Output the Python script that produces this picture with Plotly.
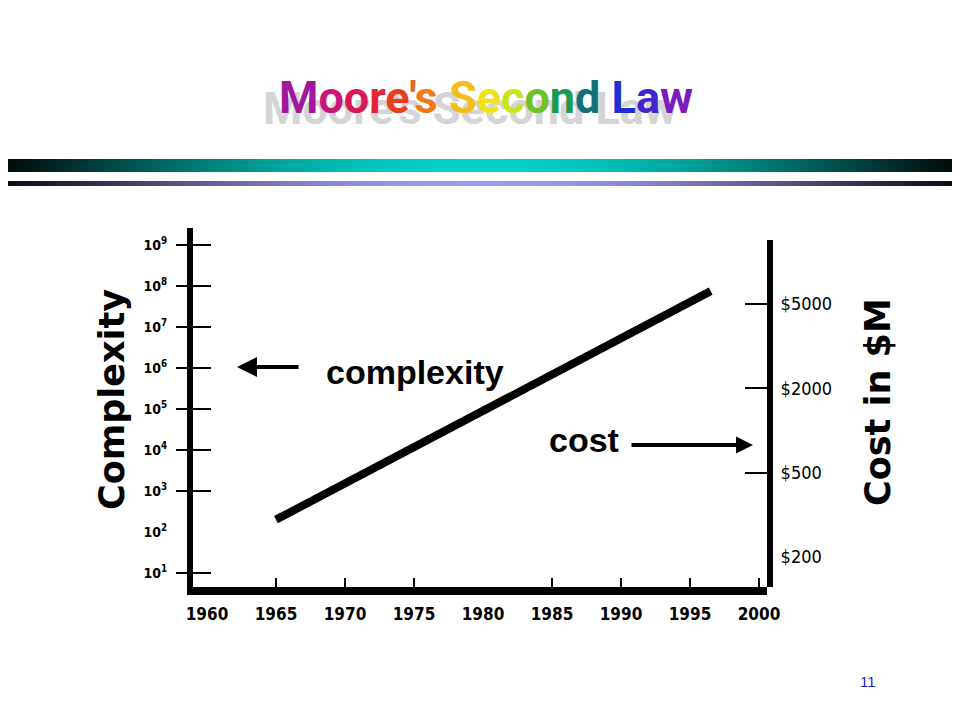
import math
import plotly.graph_objects as go

# ---- data ----
years = [1965, 1996.5]
complexity = [200, 7.5e7]

x_tick_years = [1960, 1965, 1970, 1975, 1980, 1985, 1990, 1995, 2000]
x_tick_marks = [1965, 1970, 1975, 1985, 1990, 1995, 2000]

y_exponents = [1, 2, 3, 4, 5, 6, 7, 8, 9]
y_tick_vals = [10 ** e for e in y_exponents]
y_tick_text = ["10<sup>%d</sup>" % e for e in y_exponents]
y_tick_marks = [10 ** e for e in [1, 3, 4, 5, 6, 7, 8, 9]]

cost_labels = ["$200", "$500", "$2000", "$5000"]
cost_positions = [0, 1, 2, 3]
cost_tick_marks = [1, 2, 3]

title_chars = "Moore's Second Law"
title_colors = ["#a0189e", "#c8157c", "#d8185a", "#e0243a", "#e8401e", "#f06018",
                "#f07a18", "#f4bc1c", "#f0e21a", "#c8e41c", "#70c02a", "#169a56",
                "#137078", "#1c30d8", "#4424cc", "#7a1cc0"]

# page body has an 8px margin; the figure sits inside it without overflowing
OFF = 8
W, H = 944, 704
COND = "DejaVu Sans Condensed, Liberation Sans, Arial"

def px(x):
    return (x - OFF) / W

def py(y):
    return 1 - (y - OFF) / H

# plot area geometry (screen pixels)
X0, X1 = 193, 767
YB, YT, YT2 = 587, 228, 240
PPY = 13.80  # px per year
X1960 = 207

fig = go.Figure()

fig.add_trace(go.Scatter(x=years, y=complexity, mode="lines",
                         line=dict(color="black", width=8), showlegend=False,
                         hoverinfo="skip"))
# helper invisible traces so overlay axes are drawn
for xa, ya in [("x2", "y"), ("x", "y3"), ("x", "y4"), ("x", "y2"), ("x", "y5")]:
    yy = [1e3] if ya in ("y", "y3", "y4") else [1]
    fig.add_trace(go.Scatter(x=[1980], y=yy, xaxis=xa, yaxis=ya, mode="markers",
                             marker=dict(opacity=0), showlegend=False, hoverinfo="skip"))

xr = [1960 - (X1960 - X0) / PPY, 2000 + (X1 - (X1960 + 40 * PPY)) / PPY]
ylog_range = [1 - (YB - 573) / 41.0, 9 + (245 - YT) / 41.0]
per = 84.3
y2_range = [-(YB - 557) / per, 3 + (304 - YT2) / per]

tickfont_x = dict(family=COND, size=17, color="black", weight="bold")
common = dict(showgrid=False, zeroline=False, automargin=False)

fig.update_layout(
    template="none",
    width=W, height=H,
    margin=dict(l=0, r=0, t=0, b=0, pad=0, autoexpand=False),
    paper_bgcolor="white", plot_bgcolor="rgba(0,0,0,0)",
    showlegend=False,
    xaxis=dict(domain=[px(X0), px(X1)], range=xr, tickvals=x_tick_years,
               ticktext=[str(v) for v in x_tick_years], ticks="outside",
               ticklen=5, tickcolor="rgba(0,0,0,0)", tickfont=tickfont_x,
               showline=True, linewidth=8, linecolor="black",
               anchor="y", fixedrange=True, **common),
    xaxis2=dict(overlaying="x", anchor="y", side="bottom", range=xr,
                tickvals=x_tick_marks, ticks="inside", ticklen=9, tickwidth=2,
                tickcolor="black", showticklabels=False, showline=False, **common),
    yaxis=dict(domain=[py(YB), py(YT)], type="log", range=ylog_range,
               tickvals=y_tick_vals, ticktext=y_tick_text, ticks="outside",
               ticklen=17, tickcolor="rgba(0,0,0,0)",
               tickfont=dict(family=COND, size=14, color="black", weight="bold"),
               showline=True, linewidth=6, linecolor="black", anchor="x", **common),
    yaxis3=dict(overlaying="y", anchor="x", side="left", type="log", range=ylog_range,
                tickvals=y_tick_marks, ticks="outside", ticklen=16, tickwidth=2,
                tickcolor="black", showticklabels=False, showline=False, **common),
    yaxis4=dict(overlaying="y", anchor="x", side="left", type="log", range=ylog_range,
                tickvals=y_tick_marks, ticks="inside", ticklen=18, tickwidth=2,
                tickcolor="black", showticklabels=False, showline=False, **common),
    yaxis2=dict(domain=[py(YB), py(YT2)], anchor="x", side="right", range=y2_range,
                tickvals=cost_positions, ticktext=cost_labels, ticks="outside",
                ticklen=4, tickcolor="rgba(0,0,0,0)",
                tickfont=dict(family=COND, size=18, color="black"),
                showline=True, linewidth=6, linecolor="black", **common),
    yaxis5=dict(overlaying="y2", anchor="x", side="right", range=y2_range,
                tickvals=cost_tick_marks, ticks="inside", ticklen=22, tickwidth=2,
                tickcolor="black", showticklabels=False, showline=False, **common),
)

# ---- gradient header bars ----
def mix(c1, c2, t):
    return "rgb(%d,%d,%d)" % tuple(round(a + (b - a) * t) for a, b in zip(c1, c2))

shapes = []
N = 118
for i in range(N):
    t = math.sin(math.pi * (i + 0.5) / N)
    x0, x1 = i / N, min(1.0, (i + 1) / N + 0.002)
    shapes.append(dict(type="rect", xref="paper", yref="paper", x0=x0, x1=x1,
                       y0=py(172), y1=py(159), line=dict(width=0),
                       fillcolor=mix((0, 12, 12), (0, 210, 200), t ** 1.1)))
    shapes.append(dict(type="rect", xref="paper", yref="paper", x0=x0, x1=x1,
                       y0=py(186), y1=py(181), line=dict(width=0),
                       fillcolor=mix((12, 12, 24), (156, 154, 240), t ** 1.1)))
fig.update_layout(shapes=shapes)

# ---- title (word-art style) ----
spans = []
ci = 0
for ch in title_chars:
    if ch == " ":
        spans.append(" ")
    else:
        spans.append('<span style="color:%s">%s</span>' % (title_colors[ci], ch))
        ci += 1
title_html = "".join(spans)
title_font = dict(family="Roboto, Liberation Sans, Arial", size=45, weight="bold")
fig.add_annotation(text=title_chars, xref="paper", yref="paper", x=px(470), y=py(109),
                   xanchor="center", yanchor="middle",
                   showarrow=False, font=dict(title_font, color="#d4d4d4"))
fig.add_annotation(text=title_html, xref="paper", yref="paper", x=px(486), y=py(98),
                   xanchor="center", yanchor="middle", showarrow=False, font=title_font)

# ---- axis titles ----
big = dict(family="DejaVu Sans", size=35, color="black", weight="bold")
fig.add_annotation(text="Complexity", xref="paper", yref="paper", x=px(112), y=py(400),
                   xanchor="center", yanchor="middle",
                   textangle=-90, showarrow=False, font=big)
fig.add_annotation(text="Cost in $M", xref="paper", yref="paper", x=px(878), y=py(402),
                   xanchor="center", yanchor="middle",
                   textangle=-90, showarrow=False, font=big)

# ---- in-plot labels with arrows ----
lab = dict(family="Liberation Sans, Arial", size=34, color="black", weight="bold")
fig.add_annotation(text="complexity", xref="paper", yref="paper", x=px(415), y=py(372),
                   xanchor="center", yanchor="middle", showarrow=False, font=lab)
fig.add_annotation(text="cost", xref="paper", yref="paper", x=px(584), y=py(440),
                   xanchor="center", yanchor="middle", showarrow=False, font=lab)
fig.add_annotation(text="", xref="paper", yref="paper", x=px(237), y=py(367),
                   ax=63, ay=0, showarrow=True, arrowhead=2, arrowsize=1.0,
                   arrowwidth=4, arrowcolor="black")
fig.add_annotation(text="", xref="paper", yref="paper", x=px(753), y=py(445),
                   ax=-123, ay=0, showarrow=True, arrowhead=2, arrowsize=0.85,
                   arrowwidth=4, arrowcolor="black")

# ---- page number ----
fig.add_annotation(text="11", xref="paper", yref="paper", x=px(868), y=py(681),
                   xanchor="center", yanchor="middle",
                   showarrow=False, font=dict(family="Liberation Sans, Arial", size=15,
                                              color="#1c1cd0"))

fig.write_html("out.html")
